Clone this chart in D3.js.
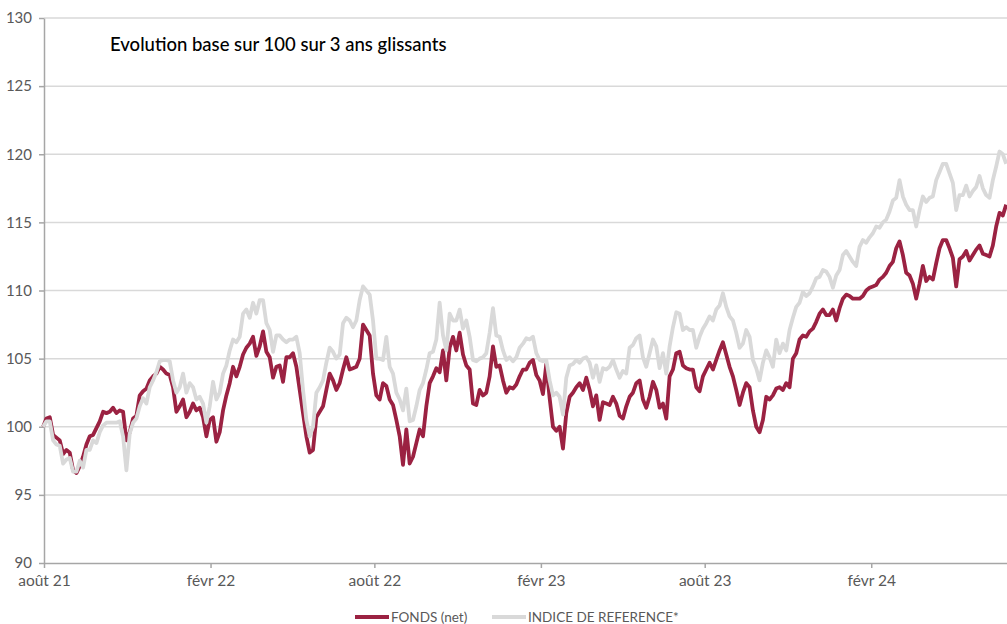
<!DOCTYPE html>
<html>
<head>
<meta charset="utf-8">
<script src="https://cdn.jsdelivr.net/npm/d3@7"></script>
<style>
  html, body { margin: 0; padding: 0; background: #fff; }
  svg { display: block; font-family: Lato, "Open Sans", sans-serif; }
</style>
</head>
<body>
<svg id="chart" width="1007" height="624"></svg>
<script>
// ---------- DATA ----------
const title = "Evolution base sur 100 sur 3 ans glissants";
const seriesNames = ["FONDS (net)", "INDICE DE REFERENCE*"];
const firstObservation = new Date(2021, 6, 31);
const stepDays = 3.682; // spacing between observations

const fonds = [
  100.0, 100.6, 100.7, 99.4, 99.2, 99.0, 98.0, 98.3, 98.1, 96.8,
  96.6, 97.1, 97.8, 98.7, 99.3, 99.4, 99.9, 100.4, 101.1, 101.0,
  101.1, 101.4, 101.0, 101.2, 101.1, 99.0, 99.6, 100.6, 100.8, 102.3,
  102.6, 102.8, 103.4, 103.7, 103.9, 104.4, 104.2, 103.9, 103.8, 102.9,
  101.1, 101.5, 102.0, 100.7, 101.1, 101.7, 101.2, 101.4,

  100.7, 99.3, 100.5, 100.7, 98.9, 99.6, 101.2, 102.3, 103.2, 104.4,
  103.7, 104.4, 105.3, 105.8, 106.1, 106.6, 105.2, 105.9, 107.0, 105.5,
  105.1, 103.6, 104.4, 104.5, 103.3, 105.1, 105.1, 105.4, 104.4, 102.7,
  101.0, 99.3, 98.1, 98.3, 100.7, 101.1, 101.5, 102.7, 103.9, 103.4,
  102.7, 103.2, 104.2, 105.1, 104.2, 104.3, 104.4, 105.0,

  107.5, 107.1, 106.7, 103.9, 102.3, 102.0, 103.2, 103.0, 102.0, 101.6,
  100.5, 99.3, 97.2, 99.8, 97.3, 97.8, 98.8, 99.8, 99.3, 101.5,
  103.2, 103.7, 104.3, 104.0, 105.6, 103.4, 105.8, 106.6, 105.6, 106.9,
  105.3, 104.5, 104.2, 101.7, 101.6, 102.7, 102.3, 102.5, 103.7, 105.9,
  104.4, 104.5, 103.4, 102.5, 102.9, 102.8, 103.1, 103.7, 104.2, 104.2,
  104.7,

  104.9, 103.8, 103.4, 102.4, 104.6, 102.1, 100.0, 99.7, 100.0, 98.4,
  101.0, 102.2, 102.5, 102.9, 103.2, 102.7, 103.6, 102.7, 101.5, 102.3,
  100.5, 101.8, 101.7, 101.6, 102.2, 101.7, 100.8, 100.6, 101.5, 102.2,
  102.5, 103.2, 103.4, 102.0, 101.4, 102.2, 103.3, 102.7, 101.4, 101.7,
  100.6, 103.7, 104.2, 105.4, 105.5, 104.5, 104.3, 104.2,

  104.2, 102.9, 102.6, 103.7, 104.2, 104.7, 104.2, 104.9, 105.6, 106.2,
  105.3, 104.4, 103.7, 102.7, 101.6, 102.5, 103.2, 102.9, 101.2, 100.0,
  99.6, 100.5, 102.2, 102.0, 102.3, 102.8, 102.9, 102.7, 103.2, 102.9,
  105.0, 105.4, 106.4, 106.7, 106.6, 107.0, 107.2, 107.7, 108.3, 108.6,
  108.2, 108.2, 108.6, 107.8, 108.7, 109.4, 109.7, 109.6,

  109.4, 109.4, 109.4, 109.6, 110.0, 110.2, 110.3, 110.4, 110.8, 111.0,
  111.3, 111.8, 112.1, 113.1, 113.6, 112.6, 111.3, 111.1, 110.5, 109.4,
  110.5, 111.8, 110.7, 111.0, 110.8, 112.0, 113.1, 113.7, 113.7, 113.1,
  112.4, 110.3, 112.3, 112.5, 112.9, 112.2, 112.6, 113.0, 113.3, 112.7,
  112.6, 112.5, 113.3, 114.7, 115.7, 115.5, 116.3
];

const indice = [
  100.0, 100.4, 100.4, 99.0, 98.7, 98.6, 97.3, 97.6, 97.7, 96.7,
  96.7, 97.5, 97.0, 98.3, 98.3, 99.0, 98.8, 99.6, 100.1, 100.3,
  100.3, 100.3, 100.3, 100.4, 99.3, 96.8, 99.5, 100.3, 100.6, 101.5,
  102.1, 101.7, 102.9, 103.4, 104.0, 104.8, 104.9, 104.9, 104.8, 103.4,
  102.5, 102.9, 103.9, 102.5, 103.2, 102.9, 102.0, 102.2,

  101.7, 100.3, 101.5, 103.3, 102.0, 102.5, 103.9, 104.5, 105.6, 106.4,
  106.2, 106.6, 108.3, 108.6, 108.0, 109.1, 108.3, 109.3, 109.3, 107.6,
  107.1, 105.5, 106.7, 106.7, 106.4, 106.2, 106.4, 106.4, 106.6, 105.4,
  102.7, 100.5, 99.3, 100.0, 102.5, 102.9, 103.4, 104.7, 105.8, 105.5,
  105.0, 105.3, 107.6, 108.0, 107.8, 107.3, 107.8, 109.3,

  110.3, 110.0, 109.7, 107.8, 105.0, 105.0, 104.9, 106.6, 104.4, 103.9,
  102.5, 102.0, 101.2, 102.8, 100.4, 100.5, 101.5, 102.7, 103.2, 104.2,
  105.4, 105.5, 106.4, 109.1, 106.7, 105.6, 108.3, 107.8, 107.8, 108.6,
  107.2, 107.8, 106.6, 104.9, 104.8, 105.0, 105.1, 105.4, 106.9, 108.7,
  106.7, 106.6, 105.6, 104.9, 105.1, 104.8, 105.1, 105.8, 106.1, 106.5,
  106.4,

  106.6, 105.4, 104.9, 104.8, 104.9, 103.4, 102.3, 102.5, 102.2, 100.9,
  103.6, 104.5, 104.6, 104.9, 104.7, 105.0, 105.1, 104.7, 103.6, 104.5,
  103.3, 104.3, 104.2, 104.4, 104.9, 104.2, 103.6, 104.1, 103.9, 105.8,
  106.0, 106.5, 106.7, 105.1, 104.4, 105.4, 106.4, 105.9, 104.3, 105.4,
  103.9, 105.9, 107.3, 108.4, 108.3, 107.1, 107.3, 107.1,

  107.1, 105.8, 106.6, 107.2, 107.6, 108.1, 107.8, 108.6, 108.9, 109.8,
  108.8, 108.1, 107.8, 106.9, 105.8, 106.1, 107.1, 106.6, 104.9, 104.3,
  103.4, 104.7, 105.6, 105.1, 104.4, 106.4, 105.4, 106.1, 105.6, 107.1,
  108.0, 108.8, 109.1, 109.9, 109.6, 109.8, 110.3, 110.9, 111.0, 111.5,
  111.4, 111.0, 110.2, 111.1, 111.5, 112.6, 112.9, 112.5,

  112.1, 111.8, 113.2, 113.7, 113.5, 113.9, 114.2, 114.7, 114.6, 115.0,
  115.2, 115.8, 116.6, 116.8, 118.1, 116.9, 116.3, 115.9, 115.9, 114.7,
  115.9, 116.9, 116.5, 116.8, 116.9, 118.1, 118.7, 119.3, 119.3, 118.6,
  117.9, 115.9, 117.0, 117.0, 117.7, 116.9, 117.3, 117.6, 118.4, 117.5,
  117.0, 116.8, 118.1, 119.1, 120.2, 120.0, 119.3
];

const yTicks = [90, 95, 100, 105, 110, 115, 120, 125, 130];
const xTickDates = [new Date(2021,7,1), new Date(2022,1,1), new Date(2022,7,1),
                    new Date(2023,1,1), new Date(2023,7,1), new Date(2024,1,1)];
const xTickLabels = ["août 21", "févr 22", "août 22", "févr 23", "août 23", "févr 24"];

// ---------- CHART ----------
const colFonds = "#9b2242";
const colIndice = "#d9d9d9";

const dates = fonds.map((_, i) => new Date(+firstObservation + i * stepDays * 864e5));

const svg = d3.select("#chart");
const x = d3.scaleTime()
  .domain([new Date(2021, 7, 1), new Date(2024, 5, 30)])
  .range([44, 1007]);
const y = d3.scaleLinear().domain([90, 130]).range([563, 18]);

// gridlines
svg.append("g").selectAll("line")
  .data(yTicks.filter(d => d !== 90))
  .join("line")
  .attr("x1", 44).attr("x2", 1007)
  .attr("y1", d => y(d)).attr("y2", d => y(d))
  .attr("stroke", "#d9d9d9").attr("stroke-width", 1.5);

// y axis
const yAxis = svg.append("g").attr("transform", "translate(44,0)")
  .call(d3.axisLeft(y).tickValues(yTicks).tickSize(5).tickPadding(7).tickSizeOuter(0));
yAxis.select(".domain").attr("stroke", "#a6a6a6").attr("stroke-width", 1.5);
yAxis.selectAll(".tick line").attr("stroke", "#a6a6a6").attr("stroke-width", 1.5);
yAxis.selectAll("text").attr("fill", "#595959").style("font-size", "15px").style("font-family", "Lato, sans-serif");

// x axis
const xAxis = svg.append("g").attr("transform", "translate(0,563)")
  .call(d3.axisBottom(x).tickValues(xTickDates)
    .tickFormat((d, i) => xTickLabels[i]).tickSize(5).tickPadding(7).tickSizeOuter(0));
xAxis.select(".domain").attr("stroke", "#a6a6a6").attr("stroke-width", 1.5);
xAxis.selectAll(".tick line").attr("stroke", "#a6a6a6").attr("stroke-width", 1.5);
xAxis.selectAll("text").attr("fill", "#595959").style("font-size", "15.5px").style("font-family", "Lato, sans-serif");

// lines
const line = d3.line()
  .x((d, i) => x(dates[i]))
  .y(d => y(d))
  .curve(d3.curveLinear);

svg.append("path").datum(fonds)
  .attr("d", line).attr("fill", "none")
  .attr("stroke", colFonds).attr("stroke-width", 3.8)
  .attr("stroke-linejoin", "round");

svg.append("path").datum(indice)
  .attr("d", line).attr("fill", "none")
  .attr("stroke", colIndice).attr("stroke-width", 3.8)
  .attr("stroke-linejoin", "round");

// title
svg.append("text")
  .attr("x", 110).attr("y", 51)
  .attr("fill", "#000")
  .style("font-size", "18.5px").style("font-weight", "500")
  .text(title);

// legend
const legend = [
  { name: seriesNames[0], color: colFonds, x: 355 },
  { name: seriesNames[1], color: colIndice, x: 492 }
];
const lg = svg.append("g");
legend.forEach(l => {
  lg.append("line").attr("x1", l.x).attr("x2", l.x + 34)
    .attr("y1", 617).attr("y2", 617)
    .attr("stroke", l.color).attr("stroke-width", 4);
  lg.append("text").attr("x", l.x + 36).attr("y", 621.5)
    .attr("fill", "#595959").style("font-size", "13.5px")
    .text(l.name);
});
</script>
</body>
</html>
